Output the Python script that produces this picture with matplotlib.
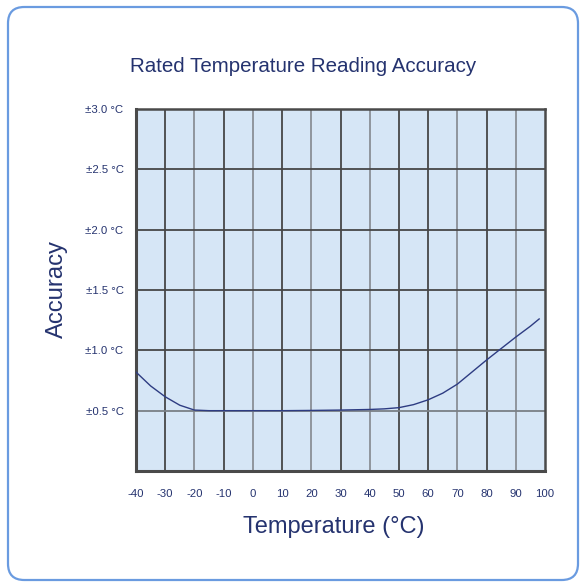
import matplotlib
matplotlib.use("Agg")
import matplotlib.pyplot as plt
from matplotlib.patches import FancyBboxPatch

plt.rcParams['font.family'] = ['Liberation Sans', 'DejaVu Sans']

# Data
temps = [-40, -35, -30, -25, -20, -15, -10, 0, 10, 20, 30, 40, 45, 50, 55, 60, 65, 70, 75, 80, 85, 90, 95, 98]
accuracy = [0.82, 0.705, 0.615, 0.545, 0.505, 0.50, 0.50, 0.50, 0.50, 0.502, 0.505, 0.51, 0.515, 0.525,
            0.55, 0.59, 0.645, 0.72, 0.82, 0.92, 1.015, 1.11, 1.20, 1.26]
x_ticks = [-40, -30, -20, -10, 0, 10, 20, 30, 40, 50, 60, 70, 80, 90, 100]
y_ticks = [0.5, 1.0, 1.5, 2.0, 2.5, 3.0]
y_tick_labels = ["±0.5 °C", "±1.0 °C", "±1.5 °C", "±2.0 °C", "±2.5 °C", "±3.0 °C"]
title = "Rated Temperature Reading Accuracy"
xlabel = "Temperature (°C)"
ylabel = "Accuracy"

navy = "#25336f"
W, H = 581, 583
fig = plt.figure(figsize=(W / 100, H / 100), dpi=100)
fig.patch.set_facecolor("white")

# rounded frame
x0, y0, x1, y1 = 8, 3, 578, 576  # pixel coords from bottom-left
box = FancyBboxPatch((x0 / W, y0 / H), (x1 - x0) / W, (y1 - y0) / H,
                     boxstyle="round,pad=0,rounding_size=0.028", transform=fig.transFigure,
                     facecolor="none", edgecolor="#6a9be0", linewidth=1.6, zorder=0)
fig.patches.append(box)

ax = fig.add_axes([136 / W, 1 - 471 / H, (545 - 136) / W, (471 - 109) / H])
ax.set_facecolor("#d6e6f6")
ax.set_xlim(-40, 100)
ax.set_ylim(0, 3.0)

# grid lines
vgrid_colors = ["#474747", "#8a8f96", "#474747", "#8a8f96", "#474747", "#8a8f96", "#474747",
                "#8a8f96", "#474747", "#474747", "#8a8f96", "#474747", "#8a8f96"]
for xv, c in zip(x_ticks[1:-1], vgrid_colors):
    ax.axvline(xv, color=c, linewidth=1.3, zorder=1)
hgrid_colors = ["#7a7f86", "#474747", "#474747", "#474747", "#474747"]
for yv, c in zip(y_ticks[:-1], hgrid_colors):
    ax.axhline(yv, color=c, linewidth=1.3, zorder=1)

ax.plot(temps, accuracy, color="#2e3c82", linewidth=1.0, zorder=3)

for side, sp in ax.spines.items():
    sp.set_color("#4a4a4a")
    sp.set_linewidth(2.2 if side in ("left", "bottom") else 1.8)

ax.set_xticks(x_ticks)
ax.set_xticklabels([str(v) for v in x_ticks])
ax.set_yticks(y_ticks)
ax.set_yticklabels(y_tick_labels)
ax.tick_params(axis="both", length=0, labelsize=8.2, labelcolor=navy)
ax.tick_params(axis="x", pad=13)
ax.tick_params(axis="y", pad=9)

fig.text(303 / W, 1 - 67 / H, title, ha="center", va="center", fontsize=14.8, color=navy)
fig.text(334 / W, 1 - 527 / H, xlabel, ha="center", va="center", fontsize=17, color=navy)
fig.text(57 / W, 1 - 289 / H, ylabel, ha="center", va="center", rotation=90, fontsize=17.2, color=navy)

fig.savefig("out.png", dpi=100, facecolor="white")
